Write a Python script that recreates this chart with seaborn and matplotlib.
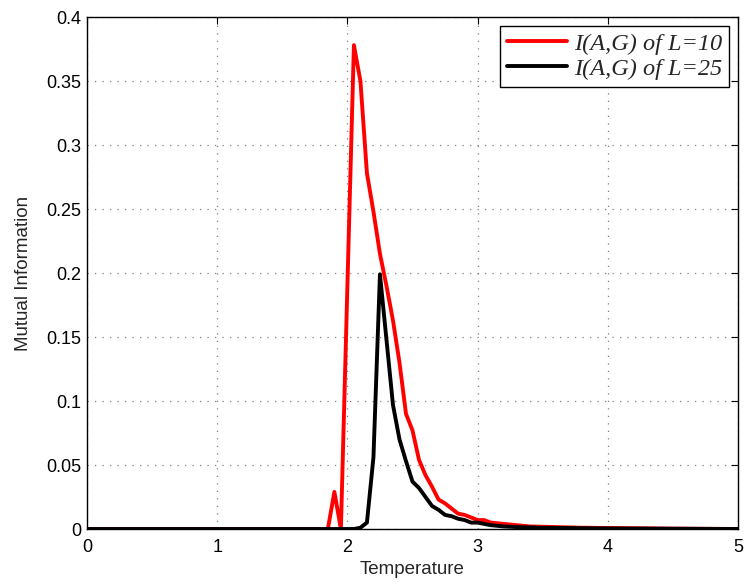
import numpy as np
import pandas as pd
import matplotlib
matplotlib.use("Agg")
import matplotlib.pyplot as plt
from matplotlib.ticker import FuncFormatter
import seaborn as sns

# Data
temp_l10 = [0.0, 1.80, 1.85, 1.90, 1.95, 2.00, 2.05, 2.10, 2.15, 2.20, 2.25, 2.30,
            2.35, 2.40, 2.45, 2.50, 2.55, 2.60, 2.65, 2.70, 2.75, 2.80, 2.85, 2.90,
            2.95, 3.00, 3.05, 3.10, 3.20, 3.30, 3.40, 3.60, 3.80, 4.00, 4.50, 5.00]
mi_l10 = [0.0, 0.0, 0.0, 0.029, 0.0, 0.190, 0.378, 0.350, 0.278, 0.248, 0.215, 0.190,
          0.163, 0.130, 0.090, 0.077, 0.054, 0.042, 0.033, 0.023, 0.020, 0.016, 0.012, 0.011,
          0.009, 0.007, 0.007, 0.005, 0.004, 0.003, 0.002, 0.0015, 0.001, 0.0008, 0.0003, 0.0]

temp_l25 = [0.0, 2.05, 2.10, 2.15, 2.20, 2.25, 2.30, 2.35, 2.40, 2.45, 2.50, 2.55,
            2.60, 2.65, 2.70, 2.75, 2.80, 2.85, 2.90, 2.95, 3.00, 3.05, 3.10, 3.20,
            3.30, 3.50, 4.00, 5.00]
mi_l25 = [0.0, 0.0, 0.001, 0.005, 0.056, 0.199, 0.148, 0.097, 0.070, 0.053, 0.037, 0.032,
          0.025, 0.018, 0.015, 0.011, 0.010, 0.008, 0.007, 0.005, 0.005, 0.004, 0.003, 0.002,
          0.0015, 0.001, 0.0004, 0.0]

label_l10 = "I(A,G) of L=10"
label_l25 = "I(A,G) of L=25"
x_ticks = [0, 1, 2, 3, 4, 5]
y_ticks = [0, 0.05, 0.1, 0.15, 0.2, 0.25, 0.3, 0.35, 0.4]

sns.set_theme(style="white")
plt.rcParams['font.family'] = ['Liberation Sans', 'DejaVu Sans']

df10 = pd.DataFrame({"Temperature": temp_l10, "MI": mi_l10})
df25 = pd.DataFrame({"Temperature": temp_l25, "MI": mi_l25})

fig = plt.figure(figsize=(7.45, 5.85), dpi=100)
ax = fig.add_axes([87/745, 1-529/585, (738-87)/745, (529-17)/585])

sns.lineplot(data=df10, x="Temperature", y="MI", ax=ax, color="#ff0000",
             linewidth=2.8, label=label_l10, estimator=None, sort=False)
sns.lineplot(data=df25, x="Temperature", y="MI", ax=ax, color="#000000",
             linewidth=2.8, label=label_l25, estimator=None, sort=False)

ax.set_xlim(0, 5)
ax.set_ylim(0, 0.4)
ax.set_xticks(x_ticks)
ax.set_yticks(y_ticks)
ax.yaxis.set_major_formatter(FuncFormatter(lambda v, p: "%g" % v))
ax.xaxis.set_major_formatter(FuncFormatter(lambda v, p: "%g" % v))

ax.grid(True, color="#808080", linestyle=(0, (1, 5)), linewidth=0.9)
for s in ax.spines.values():
    s.set_color("black")
    s.set_linewidth(1.0)
ax.tick_params(direction="in", top=True, right=True, length=5, width=0.8,
               labelsize=13, colors="black")
ax.tick_params(axis="x", pad=7)
ax.tick_params(axis="y", pad=4)

ax.set_xlabel("Temperature", fontsize=13.5, labelpad=4)
ax.set_ylabel("Mutual Information", fontsize=13.5, labelpad=10)

leg = ax.legend(loc="upper right", prop={"family": "Liberation Serif", "style": "italic", "size": 17.5},
                frameon=True, fancybox=False, edgecolor="black", framealpha=1,
                borderaxespad=0.35, handlelength=2.45, borderpad=0.3, labelspacing=0.12,
                handletextpad=0.3)
leg.get_frame().set_linewidth(1.0)

fig.savefig("out.png", dpi=100)
